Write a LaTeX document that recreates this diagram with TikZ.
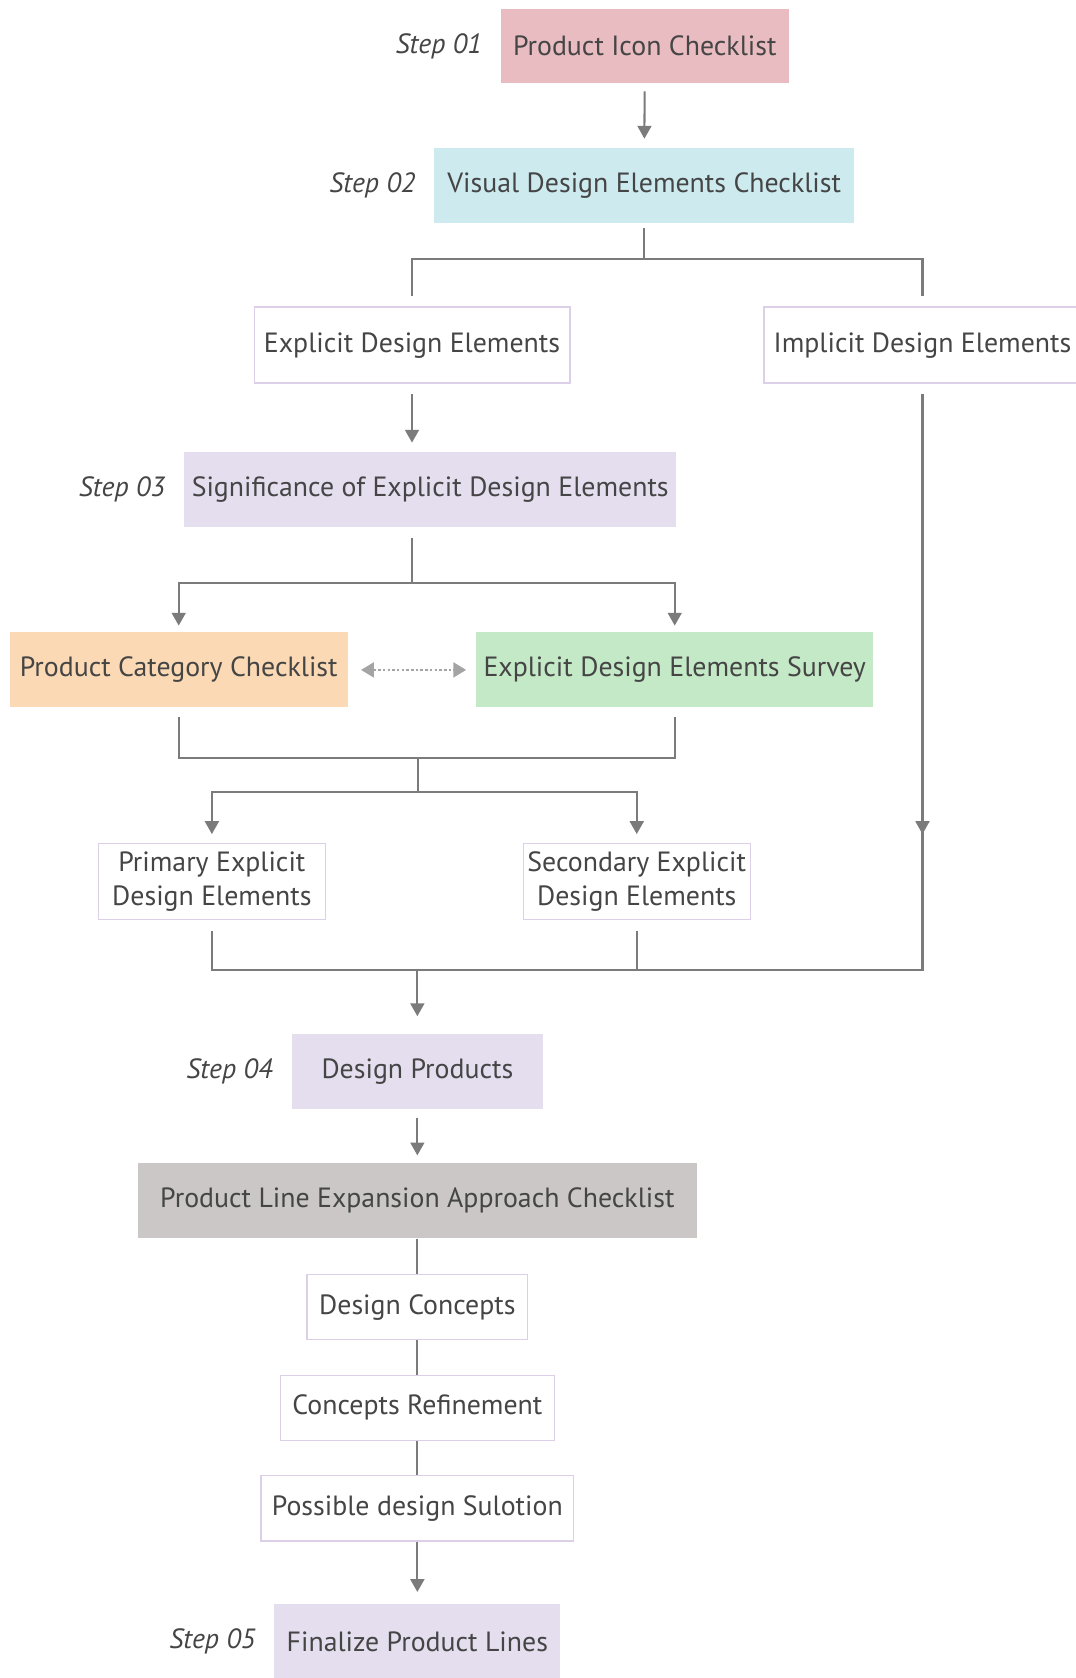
\documentclass[tikz,border=0pt]{standalone}
\usepackage{fontspec}
\setmainfont{PT Sans}
\usetikzlibrary{positioning,arrows.meta}
\definecolor{iconpink}{HTML}{E9BCC1}
\definecolor{visualblue}{HTML}{CDEAEF}
\definecolor{steplilac}{HTML}{E5DEEF}
\definecolor{categorypeach}{HTML}{FBD9B4}
\definecolor{surveygreen}{HTML}{C4E9C6}
\definecolor{expansiongrey}{HTML}{CAC7C6}
\definecolor{borderlilac}{HTML}{DCD0E8}
\definecolor{linegrey}{HTML}{7B7B7B}
\definecolor{dotgrey}{HTML}{A4A4A4}
\definecolor{textgrey}{HTML}{454545}
\begin{document}
\begin{tikzpicture}
[x=0.5pt,y=-0.5pt,
  boxdecorate/.style={shape=rectangle,inner sep=0pt,text=textgrey,align=center,%
    font=\fontsize{13}{16}\selectfont},%
  filldecorate/.style={boxdecorate,fill=#1,minimum height=35pt},%
  framedecorate/.style={boxdecorate,draw=borderlilac,line width=0.6pt,fill=white},%
  stepdecorate/.style={inner sep=0pt,text=textgrey,font=\fontsize{13}{16}\selectfont\itshape},%
  linedecorate/.style={-,draw=linegrey,line width=0.95pt},%
  arrowdecorate/.style={linedecorate,-{Triangle[length=6pt,width=6.5pt]}},%
  bothdecorate/.style={linedecorate,{Triangle[length=6pt,width=6.5pt]}-{Triangle[length=6pt,width=6.5pt]}},%
  dotdecorate/.style={draw=dotgrey,line width=1pt,dash pattern=on 1.2pt off 1pt,%
    {Triangle[length=6pt,width=7pt]}-{Triangle[length=6pt,width=7pt]}}]
\useasboundingbox (0,0) rectangle (1005,1568);
%% filled boxes
\foreach \nodename/\x/\y/\w/\colour/\boxtext in {
  icon/602.5/43/269/iconpink/Product Icon Checklist,
  visual/602/173/392/visualblue/Visual Design Elements Checklist,
  signif/402/457/460/steplilac/Significance of Explicit Design Elements,
  category/167/626/316/categorypeach/Product Category Checklist,
  survey/630.5/626/371/surveygreen/Explicit Design Elements Survey,
  products/390/1001/235/steplilac/Design Products,
  expansion/390/1122/523/expansiongrey/Product Line Expansion Approach Checklist,
  finalize/390/1534/267/steplilac/Finalize Product Lines} {
  \node (\nodename) at (\x,\y) [filldecorate=\colour,minimum width=\w*0.5pt] {\boxtext};
}
%% framed boxes
\foreach \nodename/\x/\y/\w/\h/\boxtext in {
  explicit/385/322.5/295/71/Explicit Design Elements,
  implicit/862/322.5/296/71/Implicit Design Elements,
  primary/198/823.5/212/71/Primary Explicit\\Design Elements,
  secondary/595/823.5/212/71/Secondary Explicit\\Design Elements,
  concepts/390/1221.5/206/61/Design Concepts,
  refine/390/1315.5/256/61/Concepts Refinement,
  solution/390/1409.5/292/61/Possible design Sulotion} {
  \node (\nodename) at (\x,\y) [framedecorate,minimum width=\w*0.5pt,minimum height=\h*0.5pt] {\boxtext};
}
%% step labels
\foreach \nodename/\boxname/\num in {step1/icon/01, step2/visual/02, step3/signif/03,
  step4/products/04, step5/finalize/05} {
  \node (\nodename) [stepdecorate,left=8.5pt of \boxname] {Step \num};
}
%% junctions
\coordinate (split1) at (602,242);
\coordinate (split2) at (385,545);
\coordinate (merge1) at (391,708);
\coordinate (split3) at (391,740);
\coordinate (merge2) at (390,906);
%% edges or lines
\draw[arrowdecorate,shorten <=3.5pt,shorten >=4pt] (icon) -- (visual);
\draw[linedecorate,shorten <=2.5pt] (visual) -- (split1);
\draw[linedecorate,shorten <=5pt,shorten >=5pt] (explicit.north) |- (split1) -| (implicit.north);
\draw[arrowdecorate,shorten <=5pt,shorten >=4pt] (explicit.south) -- (explicit.south |- signif.north);
\draw[linedecorate,shorten <=5pt] (split2 |- signif.south) -- (split2);
\draw[bothdecorate,shorten <=3pt,shorten >=3pt] (category.north) |- (split2) -| (survey.north);
\draw[dotdecorate,shorten <=6pt,shorten >=4.5pt] (category) -- (survey);
\draw[linedecorate,shorten <=4.5pt,shorten >=4.5pt] (category.south) |- (merge1) -| (survey.south);
\draw[linedecorate] (merge1) -- (split3);
\draw[bothdecorate,shorten <=4pt,shorten >=4pt] (primary.north) |- (split3) -| (secondary.north);
\draw[arrowdecorate,shorten <=5pt,shorten >=4pt] (implicit.south) -- (implicit.south |- primary.north);
\draw[linedecorate,shorten <=5pt,shorten >=5pt] (primary.south) |- (merge2) -| (implicit.south);
\draw[linedecorate,shorten <=5pt] (secondary.south) -- (secondary.south |- merge2);
\draw[arrowdecorate,shorten >=8pt] (merge2) -- (products);
\draw[arrowdecorate,shorten <=4pt,shorten >=3.5pt] (products) -- (expansion);
\draw[linedecorate] (expansion) -- (concepts) -- (refine) -- (solution);
\draw[arrowdecorate,shorten >=5.5pt] (solution) -- (finalize);
\end{tikzpicture}
\end{document}
